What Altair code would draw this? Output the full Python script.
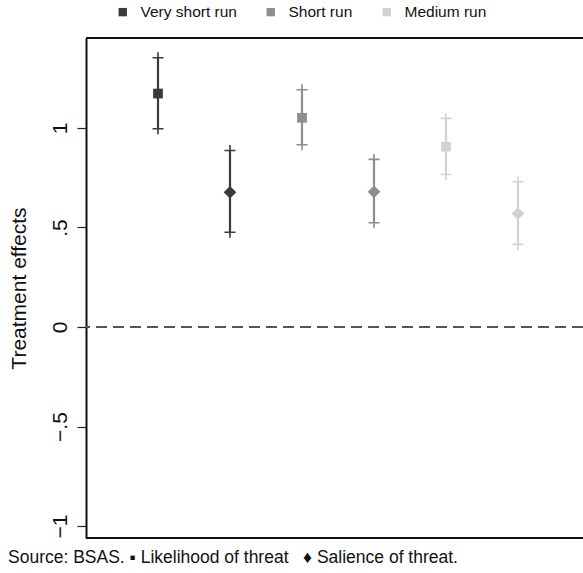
import altair as alt
import pandas as pd

periods = ["Very short run", "Very short run", "Short run", "Short run", "Medium run", "Medium run"]
kinds = ["Likelihood", "Salience", "Likelihood", "Salience", "Likelihood", "Salience"]
xpos = [1, 2, 3, 4, 5, 6]
est = [1.173, 0.677, 1.051, 0.679, 0.906, 0.570]
lo = [0.996, 0.476, 0.916, 0.524, 0.766, 0.415]
hi = [1.353, 0.887, 1.192, 0.842, 1.048, 0.730]

period_order = ["Very short run", "Short run", "Medium run"]
period_colors = ["#3a3a3a", "#8e8e8e", "#d2d2d2"]
y_ticks = [-1, -0.5, 0, 0.5, 1]
footer = "Source: BSAS. \u25aa Likelihood of threat \u00a0\u00a0\u2666 Salience of threat."

df = pd.DataFrame({"period": periods, "kind": kinds, "x": xpos, "est": est, "lo": lo, "hi": hi})

W, H = 497, 500
xscale = alt.Scale(domain=[0, 6.903], nice=False, zero=False)
yscale = alt.Scale(domain=[-1.060, 1.452], nice=False, zero=False)
cscale = alt.Scale(domain=period_order, range=period_colors)
color = alt.Color("period:N", scale=cscale,
                  legend=alt.Legend(orient="none", legendX=29, legendY=-34, direction="horizontal",
                                    title=None, symbolType="square", symbolSize=70,
                                    labelFontSize=15.5, labelFont="Liberation Sans", labelColor="#111",
                                    columnPadding=26, symbolOffset=0, labelOffset=10,
                                    symbolStrokeWidth=0))

base = alt.Chart(df)
xenc = alt.X("x:Q", scale=xscale, axis=None)

yaxis = alt.Axis(values=y_ticks, title="Treatment effects", grid=False,
                 labelExpr="datum.value == 0 ? '0' : replace(format(datum.value, '.1~f'), '0.', '.')",
                 labelAngle=270, labelFontSize=21, labelFont="Liberation Sans", labelColor="#111",
                 labelPadding=7, tickSize=9, tickColor="#222", tickWidth=1.2,
                 domainColor="#111", domainWidth=2,
                 titleFontSize=21, titleFont="Liberation Sans", titleFontWeight="normal",
                 titleColor="#111", titlePadding=20)

zero = alt.Chart(pd.DataFrame({"z": [0]})).mark_rule(
    color="#555", strokeWidth=2, strokeDash=[11, 6]).encode(
    y=alt.Y("z:Q", scale=yscale, axis=yaxis))

ci = base.mark_rule(strokeWidth=2.2).encode(
    x=xenc, y=alt.Y("lo:Q", scale=yscale), y2="hi:Q", color=color)

plus = "M-1,0L1,0M0,-1L0,1"
cap_lo = base.mark_point(shape=plus, size=121, strokeWidth=1.6, filled=False, opacity=1).encode(
    x=xenc, y=alt.Y("lo:Q", scale=yscale), color=alt.Color("period:N", scale=cscale, legend=None))
cap_hi = base.mark_point(shape=plus, size=121, strokeWidth=1.6, filled=False, opacity=1).encode(
    x=xenc, y=alt.Y("hi:Q", scale=yscale), color=alt.Color("period:N", scale=cscale, legend=None))

pts = base.mark_point(filled=True, opacity=1).encode(
    x=xenc, y=alt.Y("est:Q", scale=yscale), color=color,
    shape=alt.Shape("kind:N", scale=alt.Scale(domain=["Likelihood", "Salience"], range=["square", "diamond"]), legend=None),
    size=alt.Size("kind:N", scale=alt.Scale(domain=["Likelihood", "Salience"], range=[95, 160]), legend=None))

top_line = alt.Chart(pd.DataFrame({"a": [0]})).mark_rule(color="#111", strokeWidth=2).encode(
    x=alt.value(0), x2=alt.value(W + 5), y=alt.value(0))
bot_line = alt.Chart(pd.DataFrame({"a": [0]})).mark_rule(color="#111", strokeWidth=2).encode(
    x=alt.value(0), x2=alt.value(W + 5), y=alt.value(H))

foot = alt.Chart(pd.DataFrame({"t": [footer]})).mark_text(
    align="left", baseline="middle", fontSize=17.5, font="Liberation Sans", color="#111").encode(
    x=alt.value(-78), y=alt.value(520), text="t:N")

chart = alt.layer(zero, ci, cap_lo, cap_hi, pts, top_line, bot_line, foot).resolve_scale(
    color="shared").properties(
    width=W, height=H,
    autosize=alt.AutoSizeParams(type="none"),
    padding={"left": 86, "top": 38, "right": 0, "bottom": 35},
).configure_view(stroke=None).configure(background="white")

chart.save("out.html", embed_options={"renderer": "svg", "actions": False})
